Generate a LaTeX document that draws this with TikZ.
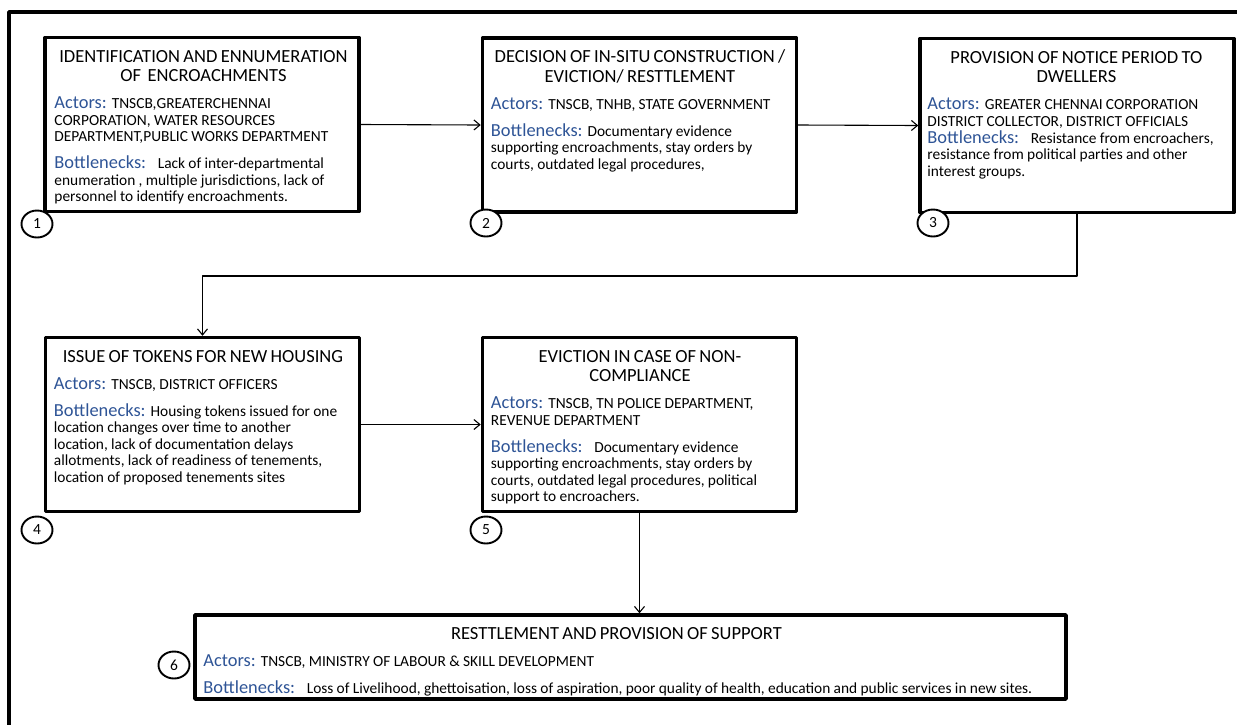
\documentclass[tikz,border=0pt]{standalone}
\usepackage{fontspec}
\setmainfont{Carlito}
\usetikzlibrary{shapes.geometric,arrows.meta}
\definecolor{labelblue}{RGB}{46,84,150}
\newcommand{\stagehead}[1]{{\centering\fontsize{18.5}{19.5}\selectfont\rule{0pt}{14pt}#1\par}}
\newcommand{\actorsline}[1]{{\fontsize{15.4}{16.5}\selectfont{\fontsize{18.4}{16.5}\selectfont\color{labelblue}Actors:} #1\par}}
\newcommand{\bottleneckline}[1]{{\fontsize{15.4}{16.5}\selectfont{\fontsize{18.4}{16.5}\selectfont\color{labelblue}Bottlenecks:} #1\par}}

\begin{document}
\begin{tikzpicture}[
    x=1pt,y=-1pt,
    line cap=round,line join=round,
    stagebox/.style={draw,line width=3.5pt,minimum width=314pt,minimum height=174pt,inner sep=0pt},
    stagetext/.style={anchor=north west,inner sep=0pt,text width=298pt,align=left,
        execute at begin node={\setlength{\parskip}{10.5pt}\setlength{\parindent}{0pt}}},
    stagenum/.style={draw,ellipse,fill=white,line width=1.9pt,minimum width=31pt,
        minimum height=27pt,inner sep=0pt,font=\fontsize{15.5}{15.5}\selectfont},
    flow/.style={-{Straight Barb[length=6pt,width=10pt]},line width=1.1pt}
]
    \useasboundingbox (0,0) rectangle (1237,724);
    \clip (0,0) rectangle (1237,724);
    % frame
    \draw[line width=3.5pt,line cap=butt] (9,740) -- (9,12) -- (1250,12);

    % stages
    \node[stagebox] (box1) at (202,124.5) {};
    \node[stagebox] (box2) at (639.5,125) {};
    \node[stagebox] (box3) at (1077,125.5) {};
    \node[stagebox] (box4) at (202.5,424.5) {};
    \node[stagebox] (box5) at (639.5,424.5) {};
    \node[stagebox,minimum width=871pt,minimum height=84pt] (box6) at (630.5,657) {};

    \node[stagetext] (t1) at ([xshift=11pt,yshift=-12.5pt]box1.north west) {%
        \stagehead{IDENTIFICATION AND ENNUMERATION\\OF\ \ ENCROACHMENTS}
        \actorsline{TNSCB,GREATERCHENNAI\\CORPORATION, WATER RESOURCES\\DEPARTMENT,PUBLIC WORKS DEPARTMENT}
        \bottleneckline{\ \ Lack of inter-departmental\\enumeration , multiple jurisdictions, lack of\\personnel to identify encroachments.}};
    \node[stagetext] (t2) at ([xshift=10pt,yshift=-12.5pt]box2.north west) {%
        \stagehead{DECISION OF IN-SITU CONSTRUCTION /\\EVICTION/ RESTTLEMENT}
        \actorsline{TNSCB, TNHB, STATE GOVERNMENT}
        \bottleneckline{Documentary evidence\\supporting encroachments, stay orders by\\courts, outdated legal procedures,}};
    \node[stagetext] (t3) at ([xshift=9pt,yshift=-12.5pt]box3.north west) {%
        \stagehead{PROVISION OF NOTICE PERIOD TO\\DWELLERS}
        \actorsline{GREATER CHENNAI CORPORATION\\DISTRICT COLLECTOR, DISTRICT OFFICIALS}
        \vspace{-10pt}
        \bottleneckline{\ \ Resistance from encroachers,\\resistance from political parties and other\\interest groups.}};
    \node[stagetext] (t4) at ([xshift=10pt,yshift=-12.5pt]box4.north west) {%
        \stagehead{ISSUE OF TOKENS FOR NEW HOUSING}
        \actorsline{TNSCB, DISTRICT OFFICERS}
        \bottleneckline{Housing tokens issued for one\\location changes over time to another\\location, lack of documentation delays\\allotments, lack of readiness of tenements,\\location of proposed tenements sites}};
    \node[stagetext] (t5) at ([xshift=10pt,yshift=-12.5pt]box5.north west) {%
        \stagehead{EVICTION IN CASE OF NON-\\COMPLIANCE}
        \actorsline{TNSCB, TN POLICE DEPARTMENT,\\REVENUE DEPARTMENT}
        \bottleneckline{\ \ Documentary evidence\\supporting encroachments, stay orders by\\courts, outdated legal procedures, political\\support to encroachers.}};
    \node[stagetext,text width=826pt] (t6) at ([xshift=10pt,yshift=-12.5pt]box6.north west) {%
        \stagehead{RESTTLEMENT AND PROVISION OF SUPPORT}
        \actorsline{TNSCB, MINISTRY OF LABOUR \& SKILL DEVELOPMENT}
        \bottleneckline{\mbox{\ \ Loss of Livelihood, ghettoisation, loss of aspiration, poor quality of health, education and public services in new sites.}}};

    % connectors
    \coordinate (bend) at (0,276);
    \draw[flow] (box1.east) -- (box2.west);
    \draw[flow] (box2.east) -- (box3.west);
    \draw[flow] (box3.south) -- (box3.south |- bend) -| (box4.north);
    \draw[flow] (box4.east) -- (box5.west);
    \draw[flow] (box5.south) -- (box5.south |- box6.north);

    % step numbers
    \node[stagenum] (n1) at (37,224) {1};
    \node[stagenum] (n2) at (486,223) {2};
    \node[stagenum] (n3) at (933,223) {3};
    \node[stagenum] (n4) at (37,530) {4};
    \node[stagenum] (n5) at (486,530) {5};
    \node[stagenum] (n6) at (174,665) {6};
\end{tikzpicture}
\end{document}
